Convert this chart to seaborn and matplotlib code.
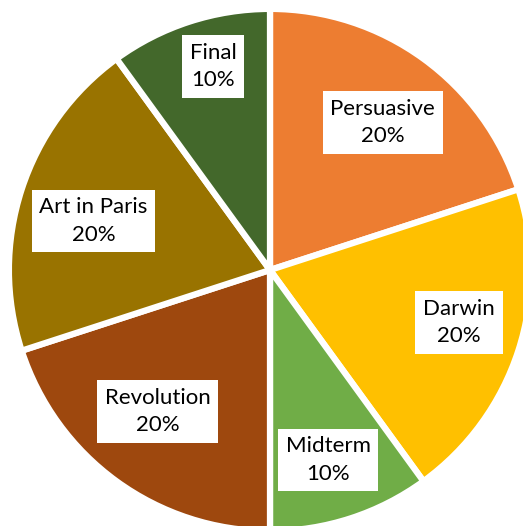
import numpy as np
import matplotlib
import matplotlib.pyplot as plt
import seaborn as sns

matplotlib.use("Agg")
sns.set_style("white")
plt.rcParams["font.family"] = ["Lato", "DejaVu Sans"]

# assignment weights, clockwise from 12 o'clock
assignments = ["Persuasive", "Darwin", "Midterm", "Revolution", "Art in Paris", "Final"]
weights = [20, 20, 10, 20, 20, 10]
colors = ["#ED7D31", "#FFC000", "#70AD47", "#9E480E", "#997300", "#43682B"]

# data label placement: distance (fraction of radius) and angle nudge (deg)
label_dist = [0.72, 0.76, 0.77, 0.70, 0.71, 0.82]
label_nudge = [-1.4, 2.4, -1.0, -2.5, 2.5, -2.4]

sns.set_palette(colors)

fig = plt.figure(figsize=(5.23, 5.26), dpi=100)
ax = fig.add_axes([0, 0, 1, 1])

total = sum(weights)
labels = [f"{name}\n{w / total:.0%}" for name, w in zip(assignments, weights)]

wedges, texts = ax.pie(
    weights,
    labels=labels,
    colors=sns.color_palette(),
    startangle=90,
    counterclock=False,
    radius=1.012,
    labeldistance=0.74,
    wedgeprops=dict(edgecolor="white", linewidth=4.5),
    textprops=dict(fontsize=16, color="black", ha="center", va="center",
                   linespacing=1.45),
)
for w, t, d, n in zip(wedges, texts, label_dist, label_nudge):
    mid = np.deg2rad((w.theta1 + w.theta2) / 2 + n)
    t.set_position((d * np.cos(mid), d * np.sin(mid)))
    t.set_horizontalalignment("center")
    t.set_bbox(dict(facecolor="white", edgecolor="none", boxstyle="square,pad=0.35"))

ax.set_xlim(-1.0465, 0.9806)
ax.set_ylim(-0.9922, 1.0465)
ax.set_aspect("auto")
ax.axis("off")

fig.savefig("out.png", dpi=100)
